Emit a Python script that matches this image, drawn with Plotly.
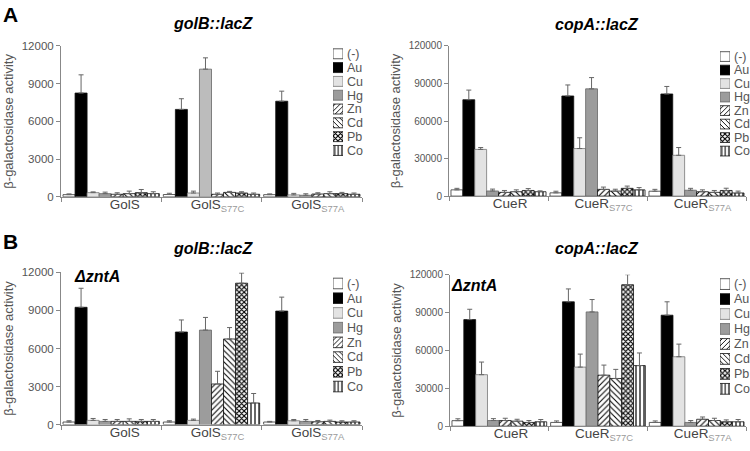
import plotly.graph_objects as go

# ---------------- data ----------------
series = ["(-)", "Au", "Cu", "Hg", "Zn", "Cd", "Pb", "Co"]
golS_groups = ["GolS", "GolS_S77C", "GolS_S77A"]
cueR_groups = ["CueR", "CueR_S77C", "CueR_S77A"]
golS_labels = ["\u00a0\u00a0\u00a0\u00a0GolS",
               "GolS<sub><span style='color:#9a9a9a'>S77C</span></sub>",
               "GolS<sub><span style='color:#9a9a9a'>S77A</span></sub>"]
cueR_labels = ["\u00a0\u00a0\u00a0CueR",
               "CueR<sub><span style='color:#9a9a9a'>S77C</span></sub>",
               "CueR<sub><span style='color:#9a9a9a'>S77A</span></sub>"]

# Panel A, golB::lacZ  (one list per series: GolS, GolS S77C, GolS S77A)
a_golB_values = [[170, 180, 170], [8250, 6950, 7600], [330, 300, 150], [250, 10150, 120],
                 [200, 200, 220], [250, 350, 250], [330, 300, 250], [250, 200, 200]]
a_golB_errors = [[60, 100, 60], [1450, 850, 800], [60, 150, 120], [120, 900, 120],
                 [120, 100, 100], [200, 80, 150], [250, 100, 100], [150, 100, 100]]
# Panel A, copA::lacZ
a_copA_values = [[5000, 2600, 3900], [77000, 80000, 81600], [37300, 38000, 32600], [4100, 85700, 4700],
                 [3000, 5400, 3500], [3500, 4000, 3000], [4500, 6200, 4500], [3500, 5000, 2500]]
a_copA_errors = [[1200, 1300, 1500], [7700, 8800, 6000], [1500, 8600, 6200], [1500, 9000, 1500],
                 [1500, 1800, 1500], [1500, 1500, 1500], [1500, 1800, 1800], [700, 1800, 1500]]
# Panel B (ΔzntA), golB::lacZ
b_golB_values = [[200, 200, 200], [9250, 7300, 8950], [330, 330, 300], [250, 7450, 250],
                 [250, 3200, 220], [250, 6750, 250], [250, 11150, 200], [250, 1700, 200]]
b_golB_errors = [[100, 100, 50], [1500, 950, 1100], [150, 100, 100], [150, 1000, 150],
                 [150, 1000, 100], [200, 900, 100], [150, 800, 100], [150, 750, 100]]
# Panel B (ΔzntA), copA::lacZ
b_copA_values = [[4400, 3000, 3000], [84400, 98500, 87900], [40800, 46800, 55000], [4500, 90500, 3000],
                 [4500, 40400, 5500], [4000, 37800, 4500], [3000, 112000, 3500], [3500, 48000, 3500]]
b_copA_errors = [[1500, 1200, 1200], [8200, 10200, 10600], [10000, 10300, 10000], [1500, 9800, 1500],
                 [1800, 8000, 1800], [1500, 7200, 1800], [1500, 8000, 1500], [1800, 10000, 1800]]

golB_ticks = [0, 3000, 6000, 9000, 12000]
copA_ticks = [0, 30000, 60000, 90000, 120000]
legend_swatch = [1, 1, 1, 1, 1, 1, 1, 1]   # full-length legend key boxes

# ---------------- styles ----------------
fills = ["white", "black", "#e3e3e3", "#9c9c9c", "white", "white", "white", "white"]
edges = ["#333", "#111", "#777", "#666", "#111", "#111", "#111", "#111"]
patterns = ["", "", "", "", "/", "\\", "x", "|"]
pat_size = [4, 4, 4, 4, 4, 4, 3.5, 4]
pat_sol = [0.3, 0.3, 0.3, 0.3, 0.26, 0.26, 0.55, 0.3]
FONT = "Arial, 'Liberation Sans', sans-serif"
W, H = 750, 451

fig = go.Figure()


def pattern_for(i, size=None):
    if not patterns[i]:
        return dict(shape="")
    return dict(shape=patterns[i], fgcolor="black", bgcolor="white",
                size=size or pat_size[i], solidity=pat_sol[i], fillmode="replace")


def add_panel(values, errors, cats, xa, ya, hg_override=None):
    for i, name in enumerate(series):
        color = fills[i]
        if i == 3 and hg_override is not None:
            color = hg_override
        fig.add_trace(go.Bar(
            x=cats, y=values[i], name=name, showlegend=False,
            marker=dict(color=color, line=dict(color=edges[i], width=0.8), pattern=pattern_for(i)),
            error_y=dict(type="data", array=errors[i], arrayminus=[0] * len(cats),
                         symmetric=False, color="#666", thickness=1, width=2.5),
            xaxis=xa, yaxis=ya,
        ))


def add_key(xa, ya):
    for i, name in enumerate(series):
        fig.add_trace(go.Bar(
            x=[legend_swatch[i]], y=[name], orientation="h", width=0.72,
            offsetgroup="key", showlegend=False, hoverinfo="skip", name=name,
            marker=dict(color=fills[i], line=dict(color=edges[i], width=0.8),
                        pattern=pattern_for(i, size=3.5)),
            xaxis=xa, yaxis=ya,
        ))


add_panel(a_golB_values, a_golB_errors, golS_groups, "x", "y",
          hg_override=["#9c9c9c", "#bcbcbc", "#9c9c9c"])
add_panel(a_copA_values, a_copA_errors, cueR_groups, "x2", "y2")
add_panel(b_golB_values, b_golB_errors, golS_groups, "x3", "y3")
add_panel(b_copA_values, b_copA_errors, cueR_groups, "x4", "y4")
add_key("x5", "y5")
add_key("x6", "y6")
add_key("x7", "y7")
add_key("x8", "y8")


def px_x(a, b):
    return [a / W, b / W]


def px_y(bottom, top):
    return [1 - bottom / H, 1 - top / H]


def xaxis_cfg(dom, anchor, cats, labels):
    return dict(domain=dom, anchor=anchor, type="category", categoryorder="array",
                categoryarray=cats, tickmode="array", tickvals=cats, ticktext=labels,
                tickson="boundaries",
                ticks="outside", ticklen=4, tickcolor="#888", showline=True, linecolor="#888",
                linewidth=1, showgrid=False, zeroline=False, ticklabelshift=6,
                ticklabelstandoff=-5, fixedrange=True,
                tickfont=dict(family=FONT, size=13.5, color="#444"))


def yaxis_cfg(dom, anchor, rng, ticks, tsize):
    return dict(domain=dom, anchor=anchor, range=rng, tickmode="array", tickvals=ticks,
                ticktext=[str(t) for t in ticks], ticks="outside", ticklen=4,
                tickcolor="#888", showline=True, linecolor="#888", linewidth=1,
                showgrid=False, zeroline=False, fixedrange=True,
                tickfont=dict(family=FONT, size=tsize, color="#555"),
                title=dict(text="β-galactosidase activity", standoff=5,
                           font=dict(family=FONT, size=13, color="#555")))


def key_x(dom, anchor):
    return dict(domain=dom, anchor=anchor, range=[0, 1], visible=False, fixedrange=True)


def key_y(dom, anchor):
    return dict(domain=dom, anchor=anchor, type="category", categoryorder="array",
                categoryarray=series, tickmode="array", tickvals=series, ticktext=series,
                autorange="reversed", side="right", ticks="", ticklabelstandoff=3,
                showline=False, showgrid=False, zeroline=False, fixedrange=True,
                tickfont=dict(family=FONT, size=12.5, color="#555"))


fig.update_layout(
    width=W, height=H, margin=dict(l=0, r=0, t=0, b=0),
    paper_bgcolor="white", plot_bgcolor="white",
    barmode="group", bargap=0.04, bargroupgap=0,
    font=dict(family=FONT), showlegend=False,
    xaxis=xaxis_cfg(px_x(61, 362), "y", golS_groups, golS_labels),
    yaxis=yaxis_cfg(px_y(196, 41), "x", [0, 12000], golB_ticks, 11.5),
    xaxis2=xaxis_cfg(px_x(449, 746), "y2", cueR_groups, cueR_labels),
    yaxis2=yaxis_cfg(px_y(195.3, 41), "x2", [0, 120000], copA_ticks, 10),
    xaxis3=xaxis_cfg(px_x(61, 362), "y3", golS_groups, golS_labels),
    yaxis3=yaxis_cfg(px_y(430, 273.7), "x3", [0, 12000], golB_ticks, 11.5),
    xaxis4=xaxis_cfg(px_x(450, 746), "y4", cueR_groups, cueR_labels),
    yaxis4=yaxis_cfg(px_y(431.7, 276), "x4", [0, 120000], copA_ticks, 10),
    xaxis5=key_x(px_x(333, 343), "y5"), yaxis5=key_y(px_y(155.5, 42), "x5"),
    xaxis6=key_x(px_x(720, 730), "y6"), yaxis6=key_y(px_y(156, 45), "x6"),
    xaxis7=key_x(px_x(333, 343), "y7"), yaxis7=key_y(px_y(398.5, 277.5), "x7"),
    xaxis8=key_x(px_x(720, 730), "y8"), yaxis8=key_y(px_y(401, 278), "x8"),
)

annots = [
    dict(text="<b>A</b>", x=1 / W, y=1 - 9 / H, size=21, xanchor="left", yanchor="middle"),
    dict(text="<b>B</b>", x=1 / W, y=1 - 242 / H, size=21, xanchor="left", yanchor="middle"),
    dict(text="<b><i>golB::lacZ</i></b>", x=213 / W, y=1 - 17.5 / H, size=16, xanchor="center", yanchor="middle"),
    dict(text="<b><i>copA::lacZ</i></b>", x=597 / W, y=1 - 19 / H, size=16, xanchor="center", yanchor="middle"),
    dict(text="<b><i>golB::lacZ</i></b>", x=213 / W, y=1 - 249.5 / H, size=16, xanchor="center", yanchor="middle"),
    dict(text="<b><i>copA::lacZ</i></b>", x=597 / W, y=1 - 249.5 / H, size=16, xanchor="center", yanchor="middle"),
    dict(text="<b><i>ΔzntA</i></b>", x=72 / W, y=1 - 278 / H, size=16, xanchor="left", yanchor="middle"),
    dict(text="<b><i>ΔzntA</i></b>", x=449 / W, y=1 - 287 / H, size=16, xanchor="left", yanchor="middle"),
]
for a in annots:
    fig.add_annotation(text=a["text"], x=a["x"], y=a["y"], xref="paper", yref="paper",
                       xanchor=a["xanchor"], yanchor=a["yanchor"], showarrow=False,
                       font=dict(family=FONT, size=a["size"], color="black"))

fig.write_html("out.html", config={"displayModeBar": False},
               post_script="document.body.style.margin='0px';")
